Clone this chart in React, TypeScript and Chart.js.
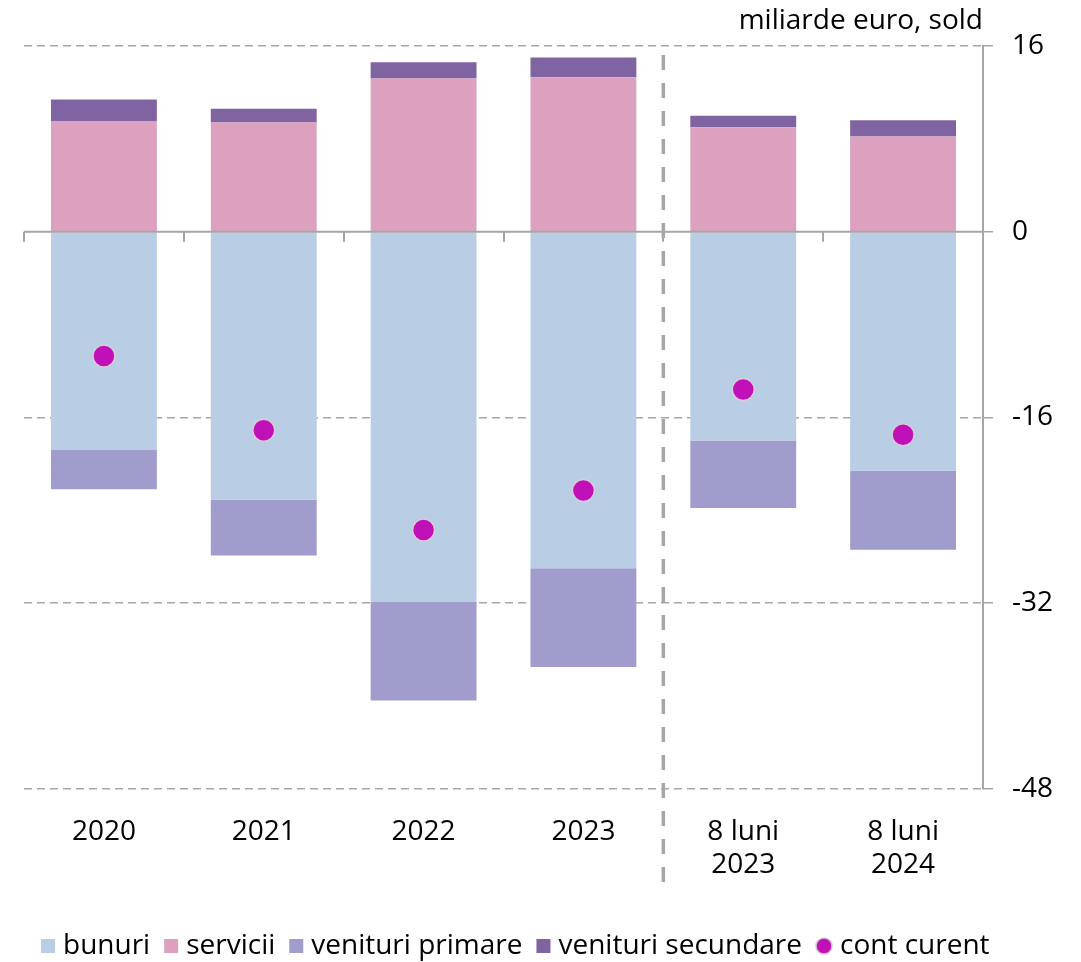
import React, { useEffect, useRef } from 'react';
import { Chart, registerables } from 'chart.js';
Chart.register(...registerables);

const categories = [['2020'], ['2021'], ['2022'], ['2023'], ['8 luni', '2023'], ['8 luni', '2024']];
const bunuri = [-18.8, -23.1, -31.9, -29.0, -18.0, -20.6];
const servicii = [9.5, 9.4, 13.2, 13.3, 9.0, 8.2];
const venituriPrimare = [-3.4, -4.8, -8.5, -8.5, -5.8, -6.8];
const venituriSecundare = [1.9, 1.2, 1.4, 1.7, 1.0, 1.4];
const contCurent = [-10.7, -17.1, -25.7, -22.3, -13.6, -17.5];
const yTicks = [-48, -32, -16, 0, 16];
const unitLabel = 'miliarde euro, sold';

const FONT = '"Open Sans", Lato, sans-serif';
const FS = 28;
const GRID = '#A6A6A6';
const C_BUN = '#B9CDE5';
const C_SER = '#DCA1BE';
const C_PRI = '#A09CCB';
const C_SEC = '#8064A2';
const C_CONT = '#C010B8';

const legendItems = [
  { label: 'bunuri', color: C_BUN, type: 'box' },
  { label: 'servicii', color: C_SER, type: 'box' },
  { label: 'venituri primare', color: C_PRI, type: 'box' },
  { label: 'venituri secundare', color: C_SEC, type: 'box' },
  { label: 'cont curent', color: C_CONT, type: 'dot' },
];

export default function App() {
  const ref = useRef<HTMLCanvasElement>(null);
  useEffect(() => {
    const canvas = ref.current!;
    const overlay = {
      id: 'overlay',
      afterDatasetsDraw(chart: any) {
        const { ctx, chartArea, scales } = chart;
        const y0 = scales.y.getPixelForValue(0);
        const n = categories.length;
        const cw = (chartArea.right - chartArea.left) / n;
        ctx.save();
        ctx.strokeStyle = GRID;
        ctx.lineWidth = 2;
        ctx.setLineDash([]);
        ctx.beginPath();
        ctx.moveTo(chartArea.left, y0);
        ctx.lineTo(chartArea.right, y0);
        for (let i = 0; i < n; i++) {
          const x = Math.round(chartArea.left + i * cw);
          ctx.moveTo(x, y0);
          ctx.lineTo(x, y0 + 10);
        }
        ctx.stroke();
        ctx.restore();
      },
      afterDraw(chart: any) {
        const { ctx, chartArea, scales } = chart;
        ctx.save();
        // separator
        const xs = (scales.x.getPixelForValue(3) + scales.x.getPixelForValue(4)) / 2;
        ctx.strokeStyle = GRID;
        ctx.lineWidth = 3.5;
        ctx.setLineDash([15, 13]);
        ctx.beginPath();
        ctx.moveTo(xs, chartArea.top + 9);
        ctx.lineTo(xs, 882);
        ctx.stroke();
        ctx.setLineDash([]);
        // unit label
        ctx.fillStyle = '#000';
        ctx.font = `${FS}px ${FONT}`;
        ctx.textAlign = 'right';
        ctx.textBaseline = 'middle';
        ctx.fillText(unitLabel, chartArea.right, 21);
        // legend
        ctx.textAlign = 'left';
        let x = 41;
        const ly = 946;
        for (const it of legendItems) {
          if (it.type === 'box') {
            ctx.fillStyle = it.color;
            ctx.fillRect(x, ly - 7, 14, 14);
            x += 14 + 8;
          } else {
            ctx.beginPath();
            ctx.arc(x + 8, ly, 8, 0, Math.PI * 2);
            ctx.fillStyle = it.color;
            ctx.fill();
            ctx.strokeStyle = '#D0C8D0';
            ctx.lineWidth = 1.5;
            ctx.stroke();
            x += 16 + 8;
          }
          ctx.fillStyle = '#000';
          ctx.fillText(it.label, x, ly);
          x += ctx.measureText(it.label).width + 14;
        }
        ctx.restore();
      },
    };

    const barCommon = { type: 'bar' as const, stack: 'bars', order: 1, barPercentage: 1, categoryPercentage: 0.6625 };
    const chart = new Chart(canvas, {
      type: 'bar',
      data: {
        labels: categories as any,
        datasets: [
          { ...barCommon, label: 'bunuri', data: bunuri, backgroundColor: C_BUN },
          { ...barCommon, label: 'servicii', data: servicii, backgroundColor: C_SER },
          { ...barCommon, label: 'venituri primare', data: venituriPrimare, backgroundColor: C_PRI },
          { ...barCommon, label: 'venituri secundare', data: venituriSecundare, backgroundColor: C_SEC },
          {
            type: 'line' as const,
            label: 'cont curent',
            data: contCurent,
            stack: 'line',
            order: 0,
            showLine: false,
            pointRadius: 11,
            pointBackgroundColor: C_CONT,
            pointBorderColor: '#D8CCD8',
            pointBorderWidth: 1.5,
          } as any,
        ],
      },
      options: {
        responsive: false,
        animation: false,
        layout: { padding: { left: 24, top: 46, right: 0, bottom: 54 } },
        plugins: { legend: { display: false }, tooltip: { enabled: false } },
        scales: {
          x: {
            stacked: true,
            grid: { display: false, drawTicks: false },
            border: { display: false },
            ticks: { color: '#000', font: { family: FONT, size: FS }, padding: 26, maxRotation: 0, autoSkip: false },
          },
          y: {
            stacked: true,
            position: 'right',
            min: -48,
            max: 16,
            afterBuildTicks: (s: any) => { s.ticks = yTicks.map((v) => ({ value: v })); },
            afterFit: (s: any) => { s.width = 98; },
            grid: {
              color: (c: any) => (c.tick && c.tick.value === 0 ? 'rgba(0,0,0,0)' : GRID),
              tickColor: GRID,
              lineWidth: 1.5,
              tickLength: 10,
            },
            border: { color: GRID, width: 2, dash: [8, 5] },
            ticks: { color: '#000', font: { family: FONT, size: FS }, padding: 19 },
          },
        },
      },
      plugins: [overlay],
    });
    return () => chart.destroy();
  }, []);
  return (
    <div style={{ position: 'absolute', left: 0, top: 0, width: 1081, height: 962, background: '#fff' }}>
      <canvas ref={ref} width={1081} height={962} />
    </div>
  );
}
